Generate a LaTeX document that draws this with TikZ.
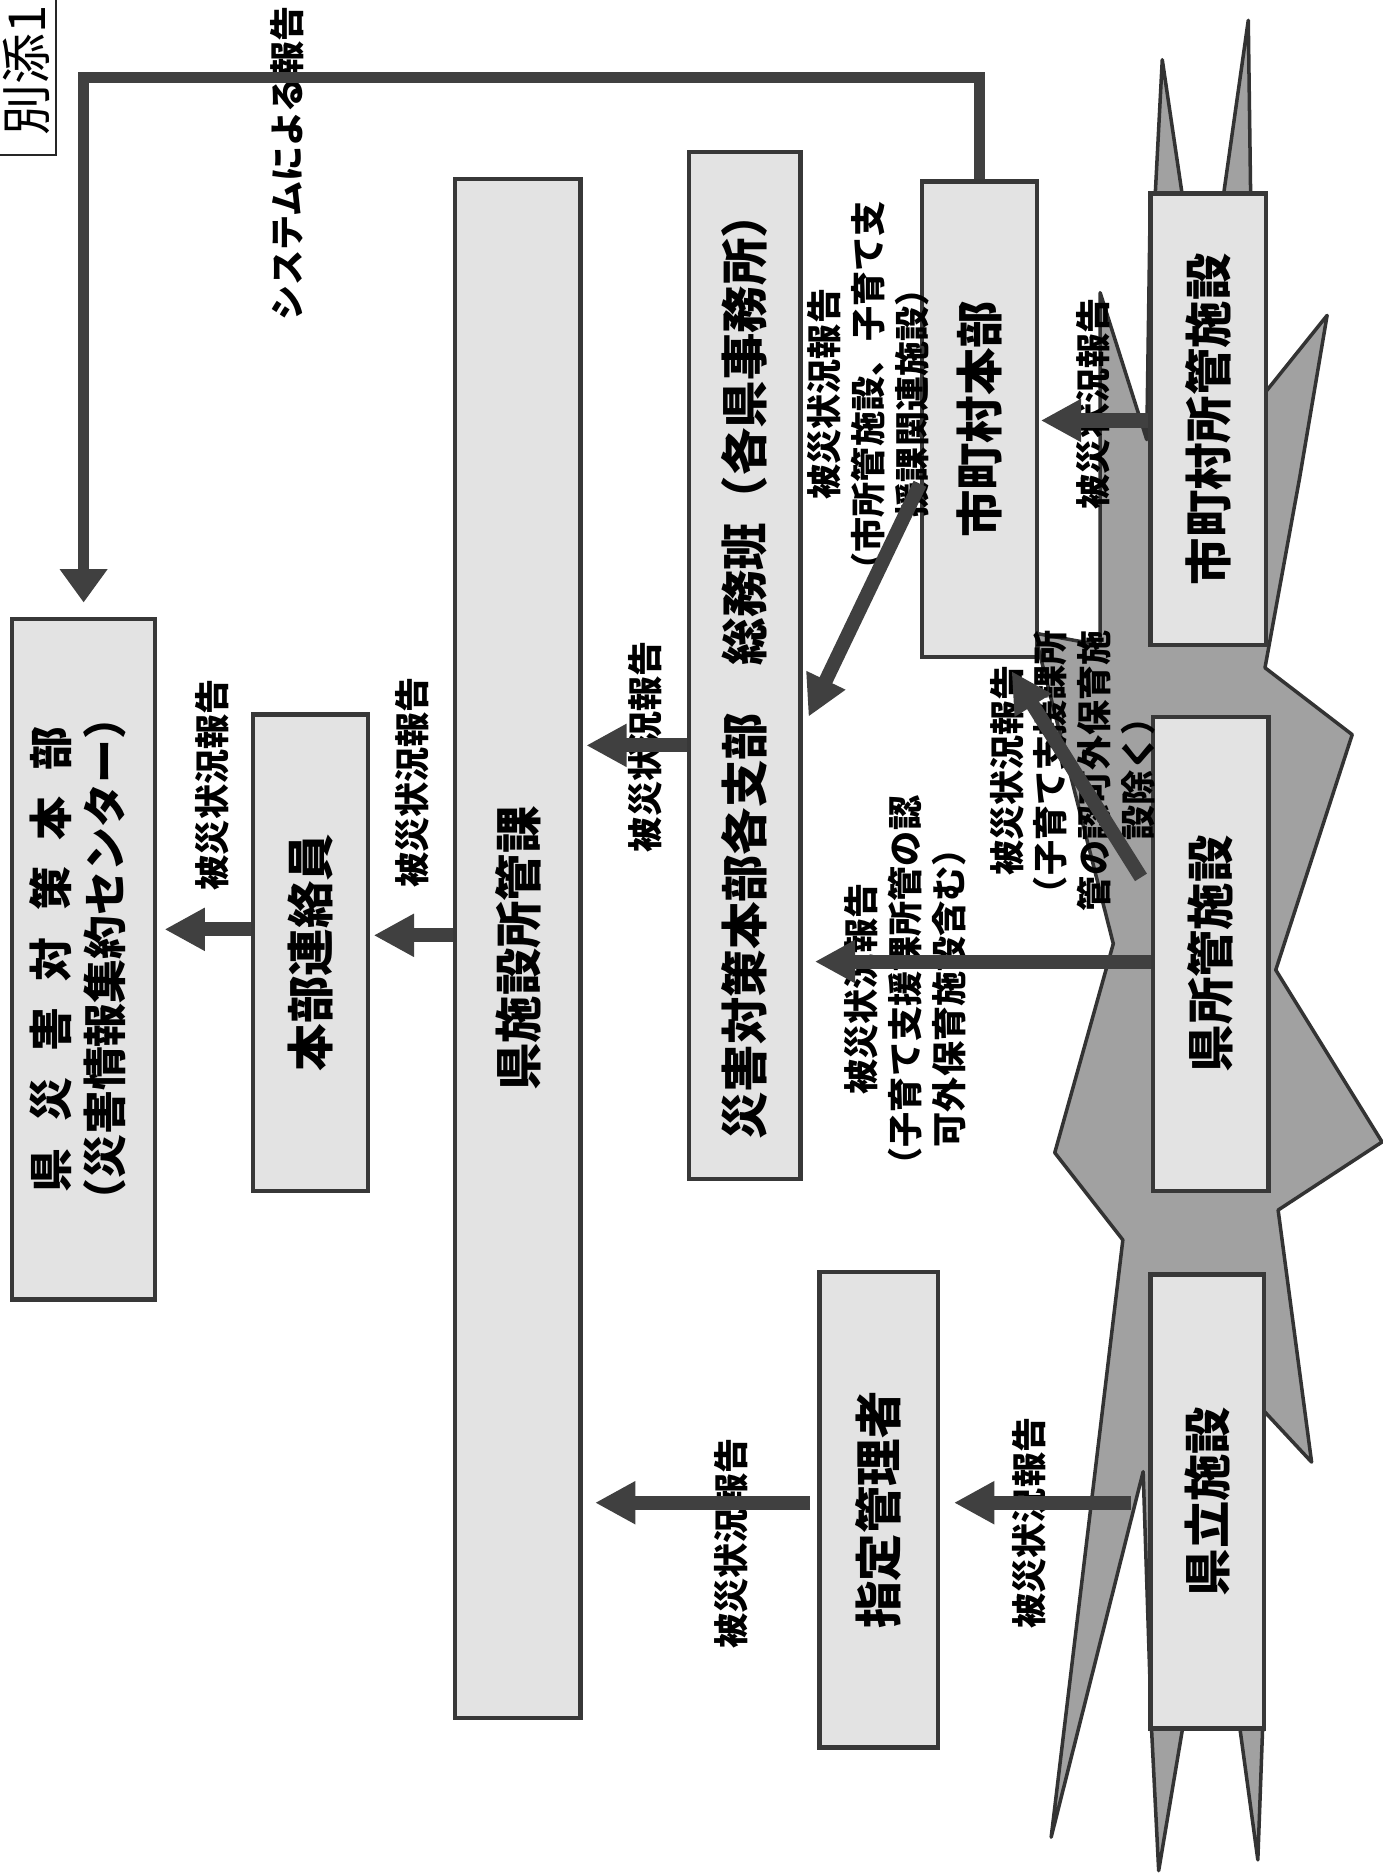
\documentclass[tikz,border=0pt]{standalone}
\usepackage{fontspec}
\setmainfont{Noto Sans CJK JP}
\usetikzlibrary{arrows.meta,calc}
\newcommand{\pxu}{0.0239cm}

\begin{document}
\begin{tikzpicture}[
  x=0.0239cm, y=-0.0239cm,
  font=\bfseries,
  sz/.style 2 args={minimum width=#1*\pxu, minimum height=#2*\pxu},
  box/.style={draw=black!78, fill=black!11, line width=2.5pt, inner sep=0pt,
              font=\bfseries\fontsize{27}{32}\selectfont},
  lbl/.style={rotate=90, align=center, inner sep=0pt,
              font=\bfseries\fontsize{20}{25}\selectfont},
  rep/.style={-{Triangle[length=23pt,width=23pt]}, line width=8pt, draw=black!75},
  sysarr/.style={-{Triangle[length=19pt,width=26pt]}, line width=6pt, draw=black!75},
  burst/.style={draw=black!80, fill=black!37, line width=2pt, line join=round}
]
\useasboundingbox (0,0) rectangle (1157,1568);

% ---- damage burst behind the facilities ----
\draw[burst] (967,165) -- (973,50) -- (990,165) -- (1024,165) -- (1045,17) -- (1047,165)
  -- (1058,330) -- (1111,264) -- (1088,400) -- (1059,559) -- (1132,615) -- (1068,812)
  -- (1157,956) -- (1070,1013) -- (1098,1224) -- (1057,1180) -- (1057,1447)
  -- (1053,1557) -- (1038,1447) -- (990,1447) -- (970,1566) -- (964,1447)
  -- (957,1232) -- (880,1538) -- (926,1155) -- (940,1038) -- (883,965)
  -- (932,790) -- (866,530) -- (921,540) -- (921,245) -- (960,368) -- (963,165) -- cycle;

% ---- boxes ----
\node[box, sz={120}{570}, font=\bfseries\fontsize{25}{30.5}\selectfont] (hq) at (70,803)
  {\rotatebox{90}{\begin{tabular}{@{}c@{}}\makebox[10.6em]{県\hfill 災\hfill 害\hfill 対\hfill 策\hfill 本\hfill 部}\\（災害情報集約センター）\end{tabular}}};
\node[box, sz={96}{399}]   (liaison) at (260,797.5)  {\rotatebox{90}{本部連絡員}};
\node[box, sz={105}{1288}] (kenka)   at (433.5,794)  {\rotatebox{90}{県施設所管課}};
\node[box, sz={93}{860}]   (branch)  at (623.5,557)  {\rotatebox{90}{災害対策本部各支部　総務班（各県事務所）}};
\node[box, sz={96}{398}]   (city)    at (820,351)    {\rotatebox{90}{市町村本部}};
\node[box, sz={97}{378}]   (cityfac) at (1011.5,351) {\rotatebox{90}{市町村所管施設}};
\node[box, sz={97}{397}]   (kenfac)  at (1013.5,798.5) {\rotatebox{90}{県所管施設}};
\node[box, sz={95}{380}]   (prefac)  at (1010.5,1257) {\rotatebox{90}{県立施設}};
\node[box, sz={99}{398}]   (mgr)     at (735.5,1264) {\rotatebox{90}{指定管理者}};

% annex tag
\node[draw=black!85, fill=white, line width=1.2pt, sz={50}{142}, inner sep=0pt,
      font=\fontsize{29}{34}\selectfont] (annex) at (22,59) {\rotatebox{90}{別添1}};

% ---- labels ----
\node[lbl] (syslbl) at (240,137) {システムによる報告};
\node[lbl] (rA) at (178,657) {被災状況報告};
\node[lbl] (rB) at (345,655) {被災状況報告};
\node[lbl] (rC) at (540,625) {被災状況報告};
\node[lbl] (rD) at (727,330) {被災状況報告\\（市所管施設、子育て支\\援課関連施設）};
\node[lbl] (rE) at (915,338) {被災状況報告};
\node[lbl] (rF) at (758,828) {被災状況報告\\（子育て支援課所管の認\\可外保育施設含む）};
\node[lbl] (rG) at (898,645) {被災状況報告\\（子育て支援課所\\管の認可外保育施\\設除く）};
\node[lbl] (rH) at (862,1275) {被災状況報告};
\node[lbl] (rI) at (612,1292) {被災状況報告};

% ---- system report line ----
\coordinate (sysY) at (0,65);
\draw[sysarr, shorten >=8pt] (city.north) -- (city.north |- sysY) -- (hq.north |- sysY) -- (hq.north);

% ---- report arrows ----
\coordinate (yA) at (0,778);
\coordinate (yB) at (0,783);
\coordinate (yC) at (0,624);
\coordinate (yE) at (0,352);
\coordinate (yF) at (0,805);
\coordinate (yH) at (0,1258);

\draw[rep, shorten >=4pt] (liaison.west |- yA) -- (hq.east |- yA);
\draw[rep, shorten >=2pt] (kenka.west |- yB) -- (liaison.east |- yB);
\draw[rep, shorten >=2pt] (branch.west |- yC) -- (kenka.east |- yC);
\draw[rep] ($(city.west)+(0,54)$) -- ($(branch.east)+(5,43)$);
\draw[rep, shorten >=1pt] (cityfac.west |- yE) -- (city.east |- yE);
\draw[rep, shorten >=7pt] (kenfac.west |- yF) -- (branch.east |- yF);
\draw[rep] ($(kenfac.west)+(-8,-64)$) -- ($(city.south east)+(-23,10)$);
\draw[rep, shorten <=10pt, shorten >=8pt] (prefac.west |- yH) -- (mgr.east |- yH);
\draw[rep, shorten <=4pt, shorten >=7pt] (mgr.west |- yH) -- (kenka.east |- yH);

\end{tikzpicture}
\end{document}
